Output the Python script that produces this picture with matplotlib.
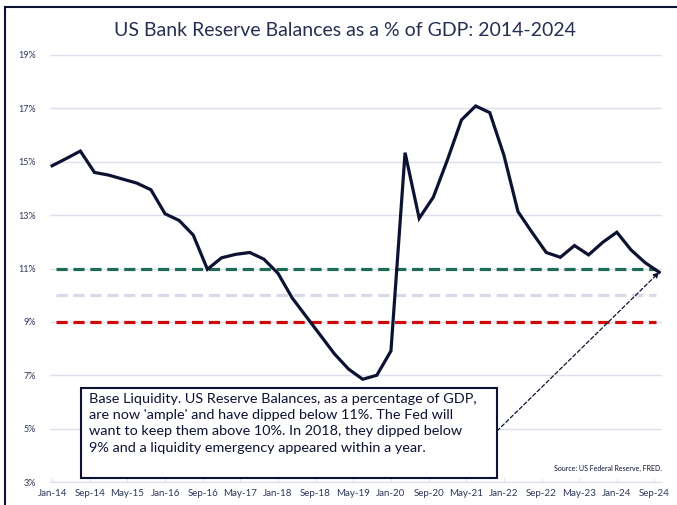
import matplotlib
matplotlib.use("Agg")
import matplotlib.pyplot as plt
from matplotlib.patches import Rectangle
from matplotlib.lines import Line2D

plt.rcParams['font.family'] = ['Lato', 'DejaVu Sans']

# quarterly reserve balances as % of GDP, Jan-14 .. Oct-24
months = list(range(0, 130, 3))
reserves = [14.85, 15.12, 15.4, 14.6,
            14.5, 14.35, 14.2, 13.95,
            13.05, 12.8, 12.25, 10.97,
            11.4, 11.53, 11.6, 11.35,
            10.82, 9.9, 9.2, 8.5,
            7.8, 7.23, 6.85, 7.0,
            7.91, 15.34, 12.88, 13.67,
            15.07, 16.57, 17.09, 16.84,
            15.25, 13.13, 12.35, 11.6,
            11.42, 11.86, 11.51, 11.98,
            12.36, 11.7, 11.22, 10.86]

tick_pos = list(range(0, 130, 8))
tick_labels = ['Jan-14', 'Sep-14', 'May-15', 'Jan-16', 'Sep-16', 'May-17', 'Jan-18',
               'Sep-18', 'May-19', 'Jan-20', 'Sep-20', 'May-21', 'Jan-22', 'Sep-22',
               'May-23', 'Jan-24', 'Sep-24']
y_ticks = [3, 5, 7, 9, 11, 13, 15, 17, 19]

ample = 11
target = 10
emergency = 9

navy = '#0d1233'
txt = '#2e3758'
grid_c = '#dedeec'

W, H = 677, 505
fig = plt.figure(figsize=(W / 100, H / 100), dpi=100)
ax = fig.add_axes([50 / W, 1 - 482 / H, 612 / W, 427 / H])

ax.set_xlim(-0.45, 129.6)
ax.set_ylim(3, 19)
ax.set_yticks(y_ticks)
ax.set_yticklabels([f'{v}%' for v in y_ticks])
ax.set_xticks(tick_pos)
ax.set_xticklabels(tick_labels)
ax.grid(axis='y', color=grid_c, lw=1)
ax.set_axisbelow(True)
for s in ['top', 'right', 'left']:
    ax.spines[s].set_visible(False)
ax.spines['bottom'].set_color(grid_c)
ax.tick_params(axis='y', length=0, pad=10, labelsize=6.5, labelcolor=txt)
ax.tick_params(axis='x', length=3, color=grid_c, direction='in', pad=5,
               labelsize=7, labelcolor=txt)

dash = (3.5, 1.8)
ax.axhline(target, xmin=0.01, xmax=0.99, color='#d9d9e9', lw=2.3, dashes=dash)
ax.axhline(ample, xmin=0.01, xmax=0.99, color='#1f6b55', lw=2.3, dashes=dash)
ax.axhline(emergency, xmin=0.01, xmax=0.99, color='#cc0a0a', lw=2.3, dashes=dash)

ax.plot(months, reserves, color=navy, lw=2.3, solid_joinstyle='miter', zorder=5)

# annotation box
fig.patches.append(Rectangle((81 / W, 1 - 478 / H), 416 / W, 90 / H,
                             transform=fig.transFigure, fill=True, fc='white',
                             ec=navy, lw=1.5, zorder=6))
note = ("Base Liquidity. US Reserve Balances, as a percentage of GDP,\n"
        "are now 'ample' and have dipped below 11%. The Fed will\n"
        "want to keep them above 10%. In 2018, they dipped below\n"
        "9% and a liquidity emergency appeared within a year.")
fig.text(89 / W, 1 - 393 / H, note, ha='left', va='top', fontsize=10.4,
         color=navy, linespacing=1.42, zorder=7)

ax.annotate('', xy=(months[-1], reserves[-1]), xycoords='data',
            xytext=(497 / W, 1 - 431 / H), textcoords='figure fraction',
            arrowprops=dict(arrowstyle='-|>', color=navy, lw=0.9, ls=(0, (3, 2)),
                            mutation_scale=8, shrinkA=0, shrinkB=0), zorder=8)

fig.text(662 / W, 1 - 468 / H, 'Source: US Federal Reserve, FRED.', ha='right',
         va='center', fontsize=5, color=navy)

fig.text(345 / W, 1 - 30 / H, 'US Bank Reserve Balances as a % of GDP: 2014-2024',
         ha='center', va='center', fontsize=14, color='#262f52')

# frame edges of the screenshot
fig.add_artist(Line2D([5 / W, 1], [1 - 7 / H, 1 - 7 / H], transform=fig.transFigure,
                      color=navy, lw=1.5))
fig.add_artist(Line2D([5 / W, 5 / W], [0, 1 - 7 / H], transform=fig.transFigure,
                      color=navy, lw=1.5))

fig.savefig('out.png', dpi=100)
